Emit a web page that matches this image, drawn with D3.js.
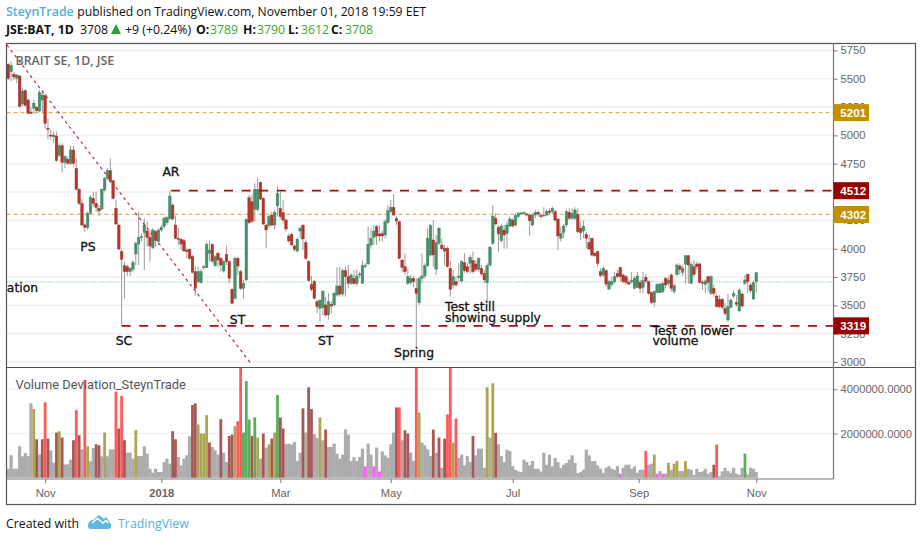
<!DOCTYPE html>
<html><head><meta charset="utf-8">
<style>html,body{margin:0;padding:0;background:#fff}svg{display:block}</style>
<script src="https://cdnjs.cloudflare.com/ajax/libs/d3/7.8.5/d3.min.js"></script>
</head><body><svg id="c" width="922" height="541"></svg>
<script>
const opens=[5627,5562,5539,5504,5524,5277,5395,5312,5206,5239,5248,5215,5312,5351,5062,5003,4998,4995,4824,4909,4762,4789,4753,4871,4709,4524,4400,4209,4188,4312,4444,4400,4356,4350,4518,4621,4689,4600,4356,4209,3974,3850,3841,3797,3818,3953,4041,4097,4144,4156,4100,4009,4150,4062,4165,4194,4230,4268,4385,4209,4091,4083,4071,3988,3994,3930,3797,3709,3700,3832,3835,3959,4038,3850,3959,3915,3803,3950,3885,3641,3562,3915,3797,3650,3724,4450,4415,4347,4347,4586,4444,4209,4203,4297,4209,4377,4356,4318,4253,4112,4127,4024,3980,4156,4206,4053,3885,3685,3709,3532,3474,3479,3503,3415,3509,3503,3591,3671,3600,3806,3753,3694,3738,3694,3771,3694,3841,3865,4032,4100,4194,4130,4135,4121,4230,4327,4365,4268,4238,3900,3841,3694,3700,3738,3650,3524,3738,3759,3850,3944,4077,3818,4047,4032,4003,4003,3827,3680,3709,3747,3715,3877,3841,3871,3894,3865,3818,3827,3782,3700,3856,4047,4268,4188,4071,4165,4135,4200,4253,4209,4283,4309,4312,4306,4297,4209,4297,4321,4291,4291,4297,4332,4327,4327,4262,4091,4144,4209,4321,4268,4268,4303,4180,4156,4127,4056,4091,3959,3974,3797,3768,3806,3644,3685,3709,3782,3835,3768,3753,3703,3706,3650,3659,3703,3659,3747,3709,3612,3524,3615,3612,3621,3738,3694,3768,3621,3774,3847,3791,3862,3938,3694,3841,3865,3865,3703,3685,3753,3606,3650,3582,3553,3553,3474,3371,3482,3582,3524,3450,3600,3694,3774,3680,3556,3708];
const highs=[5636,5651,5562,5542,5533,5415,5407,5327,5254,5312,5259,5401,5401,5371,5151,5048,5033,5033,4930,4930,4827,4812,4909,4909,4797,4533,4435,4224,4327,4474,4503,4503,4386,4533,4636,4709,4797,4606,4435,4218,3997,3885,3856,3841,3900,4062,4327,4135,4268,4238,4165,4180,4165,4180,4209,4283,4288,4512,4400,4292,4188,4100,4091,4003,4003,3944,3841,3841,3818,3856,4062,4071,4047,3944,3974,3924,3900,4027,3900,3650,3930,3930,3812,3724,4268,4474,4480,4577,4630,4592,4459,4218,4297,4327,4341,4553,4503,4430,4268,4135,4141,4038,4100,4194,4218,4077,3900,3759,3724,3547,3547,3635,3577,3606,3532,3621,3835,3841,3827,3841,3856,3782,3812,3818,3797,3894,3871,4194,4180,4209,4209,4209,4165,4259,4385,4430,4483,4288,4247,3906,3959,3827,3768,3759,3738,3753,3959,3871,4180,4218,4253,4121,4194,4091,4032,4018,3894,3812,3753,3871,3900,3959,3877,3944,3974,3900,3924,3856,3812,3871,4024,4385,4312,4209,4218,4209,4238,4283,4268,4312,4327,4327,4332,4318,4312,4312,4341,4335,4312,4365,4347,4356,4371,4341,4268,4194,4218,4347,4356,4356,4365,4356,4238,4247,4150,4121,4100,3974,3982,3827,3841,3818,3724,3753,3797,3812,3841,3782,3768,3730,3797,3759,3797,3724,3797,3777,3718,3621,3635,3694,3694,3709,3753,3753,3782,3694,3871,3871,3856,3938,3944,3885,3900,3885,3877,3724,3730,3759,3768,3680,3606,3591,3562,3518,3600,3562,3635,3591,3650,3612,3768,3782,3700,3718,3790];
const lows=[5489,5474,5489,5460,5248,5259,5254,5186,5186,5189,5195,5206,5209,5062,4965,4959,4930,4768,4812,4671,4709,4739,4739,4724,4515,4386,4200,4150,4165,4297,4371,4327,4288,4341,4503,4606,4577,4435,4209,3988,3320,3562,3759,3759,3797,3856,3856,4062,3812,4018,3885,3997,4018,4033,4150,4180,4209,4253,4253,4083,4033,3988,3974,3915,3900,3782,3585,3694,3694,3812,3827,3885,3871,3841,3835,3797,3788,3856,3694,3512,3553,3768,3635,3562,3718,4218,4230,4238,4327,4430,4209,4009,4180,4194,4171,4283,4259,4224,4150,4053,4018,3974,3965,4091,3988,3900,3709,3621,3553,3429,3356,3415,3400,3376,3429,3488,3577,3577,3577,3577,3650,3680,3680,3665,3738,3688,3827,3856,4003,4033,4033,4062,4062,4091,4218,4312,4288,4209,3906,3788,3768,3680,3680,3659,3120,3503,3694,3738,3841,3930,3841,3768,4033,3988,3856,3835,3577,3650,3665,3709,3700,3788,3782,3782,3782,3797,3797,3759,3694,3518,3841,4032,4209,3974,4053,4003,4003,4188,4188,4194,4268,4297,4297,4283,4112,4194,4268,4283,4268,4283,4288,4297,4306,4238,3988,4062,4091,4194,4253,4253,4253,4135,4077,4091,4003,3988,3930,3924,3841,3747,3747,3665,3635,3665,3694,3738,3709,3694,3680,3680,3694,3641,3650,3606,3606,3694,3591,3512,3488,3606,3606,3606,3650,3665,3621,3600,3753,3768,3759,3694,3694,3688,3753,3812,3694,3635,3606,3621,3591,3577,3482,3474,3465,3415,3356,3474,3562,3488,3444,3482,3680,3606,3606,3547,3612];
const closes=[5504,5615,5515,5533,5254,5392,5265,5195,5195,5283,5218,5380,5357,5106,5053,4995,4989,4777,4909,4762,4812,4753,4871,4753,4524,4400,4209,4188,4312,4453,4400,4362,4333,4524,4621,4689,4592,4444,4218,3997,3906,3797,3797,3827,3877,4047,4097,4106,4209,4100,4024,4165,4071,4165,4188,4268,4274,4465,4262,4091,4083,4041,3980,3974,3915,3791,3650,3797,3797,3841,4038,3988,3891,3930,3900,3856,3885,3885,3738,3518,3915,3847,3650,3694,4259,4230,4241,4524,4524,4438,4218,4165,4283,4209,4321,4488,4283,4253,4174,4068,4033,3994,4083,4180,4086,3915,3718,3641,3562,3488,3547,3621,3415,3532,3494,3606,3671,3600,3806,3753,3694,3768,3694,3759,3777,3850,3850,4038,4091,4156,4112,4112,4112,4238,4335,4365,4297,4244,3915,3835,3797,3753,3738,3709,3606,3738,3759,3850,4091,4206,3944,4053,4180,4000,3980,3841,3641,3753,3680,3759,3885,3806,3797,3924,3797,3818,3915,3777,3724,3850,4012,4288,4218,4130,4200,4121,4209,4262,4200,4291,4312,4315,4318,4300,4247,4297,4321,4306,4283,4297,4327,4318,4356,4253,4112,4135,4200,4327,4268,4312,4341,4150,4141,4200,4091,3997,3944,3938,3871,3762,3827,3688,3709,3709,3753,3753,3753,3709,3703,3688,3718,3738,3759,3650,3718,3715,3606,3524,3621,3685,3688,3694,3680,3724,3650,3674,3856,3818,3827,3938,3856,3862,3774,3841,3703,3694,3715,3703,3753,3606,3488,3488,3482,3429,3488,3547,3606,3509,3635,3494,3724,3709,3630,3700,3789];
const volumes=[409,1015,409,409,1424,970,1121,985,3364,3106,1742,1061,1742,3409,1773,1242,682,2045,2106,1818,606,606,818,1697,3060,1924,1288,4424,1424,742,1348,1515,1470,970,2045,970,1288,1288,3894,2227,3697,1697,1136,1136,864,2151,985,985,1424,1091,409,227,409,258,258,712,864,636,2106,1742,939,561,864,1015,1879,3288,3364,2409,2000,2000,2833,1591,1394,1242,1045,2651,1136,712,1894,1954,2333,2560,5300,2045,4379,2636,1894,2727,1818,864,2000,1364,1515,1773,2045,3742,2727,2227,1515,1545,1500,1621,758,1136,3136,2045,4091,3106,1970,1803,2727,1697,2182,1394,1394,1545,1091,864,1045,2182,1954,758,939,758,939,1318,515,1545,1045,515,1364,288,1197,1015,909,1515,2045,3182,3182,1697,2151,2000,1136,758,5300,2954,1591,1470,1288,985,2182,1136,1818,455,1773,2864,5300,1591,2682,894,1045,561,985,712,1894,1015,1318,1318,455,4091,1818,4273,2030,1515,985,712,1273,1212,530,364,288,258,818,712,561,758,409,409,288,1136,591,1045,515,894,712,439,591,667,818,1015,667,212,258,364,1273,1015,758,758,561,409,227,455,530,409,364,530,182,455,591,591,409,515,227,364,364,1212,591,636,1045,182,303,182,182,682,364,636,758,303,303,758,409,364,136,409,258,288,409,182,258,591,1500,76,288,455,303,227,455,182,136,455,1091,152,455,409,258];
const volumeKinds=("gggggggggo"+"dgdrdggdod"+"gggdrdgrog"+"gddgogggrd"+"rdgggogggg"+"ggggggggdd"+"gggggddooo"+"odgggdggdd"+"orrnnndnog"+"dgodonddgg"+"ggggdgddgg"+"ogdggggggg"+"ggggggmggm"+"gmgggggdrg"+"ddggrogggg"+"dgdgdrrorg"+"ggggdggggo"+"godggggggg"+"gggggggggg"+"gggggggggg"+"gggggggggg"+"ggggggmggg"+"gggggrggom"+"gmgogooggo"+"gggggggggd"+"rggggggggg"+"ngggg").split("");
const priceTicks=[5750,5500,5250,5000,4750,4500,4250,4000,3750,3500,3250,3000];
const volumeTicks=[4000,2000];
const timeTicks=[13,54,96,135,178,222.5,264];
const timeLabels=["Nov","2018","Mar","May","Jul","Sep","Nov"];
const goldLevels=[5201,4302];
const redLevels=[{price:4512,from:57.5},{price:3319,from:40}];
const lastPrice=3708;
const trendIdx=[-0.5,86];
const trendPrice=[5798,2974];
const notes=[["AR",57.4,4642],["PS",28.1,3980],["SC",40.8,3154],["ST",80.9,3331],["ST",112,3154],["Spring",143.2,3040]];
const kindColor={g:"#acacac",d:"#a85656",r:"#ff5a5a",o:"#aca552",n:"#5aae5a",m:"#ff5cff"};

const L=6.5,R=833.5,FR=915.5,T=43.5,SP=367.5,VB=478.5,B=504.5;
const n=opens.length;
const x=d3.scaleLinear().domain([0,n-1]).range([8.3,756.3]);
const y=d3.scaleLinear().domain([3000,5750]).range([362,50.4]);
const v=d3.scaleLinear().domain([0,4000]).range([477.8,389.3]);
const svg=d3.select("#c");
const AR="'Liberation Sans',Arial,sans-serif",OS="'Open Sans',sans-serif",DJ="'DejaVu Sans',sans-serif";
const defs=svg.append("defs");
defs.append("clipPath").attr("id","pp").append("rect").attr("x",L).attr("y",T).attr("width",R-L).attr("height",SP-T);
defs.append("clipPath").attr("id","vp").append("rect").attr("x",L).attr("y",SP).attr("width",R-L).attr("height",VB-SP);

// grid
const grid=svg.append("g").attr("stroke","#f1f1f1").attr("stroke-width",1.6);
grid.selectAll(".p").data(priceTicks).join("line").attr("x1",L).attr("x2",R).attr("y1",d=>y(d)).attr("y2",d=>y(d));
grid.selectAll(".v").data(volumeTicks).join("line").attr("x1",L).attr("x2",R).attr("y1",d=>v(d)).attr("y2",d=>v(d));

// axes
const pa=svg.append("g").attr("transform",`translate(${R},0)`).call(d3.axisRight(y).tickValues(priceTicks).tickSize(4).tickPadding(3).tickFormat(d3.format("d")));
const va=svg.append("g").attr("transform",`translate(${R},0)`).call(d3.axisRight(v).tickValues(volumeTicks).tickSize(4).tickPadding(3).tickFormat(d=>d3.format(".4f")(d*1000)));
const ta=svg.append("g").attr("transform",`translate(0,${VB+.5})`).call(d3.axisBottom(x).tickValues(timeTicks).tickSize(4).tickPadding(6).tickFormat((d,i)=>timeLabels[i]));
[pa,va,ta].forEach(a=>{a.select(".domain").remove();a.selectAll("line").attr("stroke","#777");
 a.selectAll("text").attr("fill","#666").style("font-family",AR).style("font-size","11.2px");});
ta.selectAll("text").filter((d,i)=>timeLabels[i]==="2018").style("font-weight","bold");

// candles
const pg=svg.append("g").attr("clip-path","url(#pp)");
pg.selectAll(".last").data([lastPrice]).join("line").attr("x1",L).attr("x2",R).attr("y1",d=>y(d)).attr("y2",d=>y(d))
 .attr("stroke","#a9d3bb").attr("stroke-width",1.2).attr("stroke-dasharray","1.2 1.4");
pg.selectAll(".gold").data(goldLevels).join("line").attr("x1",L).attr("x2",R).attr("y1",d=>y(d)).attr("y2",d=>y(d))
 .attr("stroke","#e2b54a").attr("stroke-width",1.3).attr("stroke-dasharray","4 3");
const idx=d3.range(n);
pg.selectAll(".w").data(idx).join("line").attr("x1",i=>x(i)).attr("x2",i=>x(i)).attr("y1",i=>y(highs[i])).attr("y2",i=>y(lows[i]))
 .attr("stroke","#9a9a9a").attr("stroke-width",1);
pg.selectAll(".b").data(idx).join("rect").attr("x",i=>x(i)-1.3).attr("width",2.6)
 .attr("y",i=>y(Math.max(opens[i],closes[i]))).attr("height",i=>Math.max(1,Math.abs(y(opens[i])-y(closes[i]))))
 .attr("fill",i=>closes[i]>=opens[i]?"#44916a":"#b5352b")
 .attr("stroke",i=>closes[i]>=opens[i]?"#3c7f5c":"#9c2f27").attr("stroke-width",.4);
pg.selectAll(".red").data(redLevels).join("line").attr("x1",d=>x(d.from)).attr("x2",R).attr("y1",d=>y(d.price)).attr("y2",d=>y(d.price))
 .attr("stroke","#a81010").attr("stroke-width",1.7).attr("stroke-dasharray","9 8.6");
pg.append("line").attr("x1",x(trendIdx[0])).attr("y1",y(trendPrice[0])).attr("x2",x(trendIdx[1])).attr("y2",y(trendPrice[1]))
 .attr("stroke","#b5324a").attr("stroke-width",1.2).attr("stroke-dasharray","3 3.4");

// volumes: grey first so they form a solid mass, coloured bars on top
const vg=svg.append("g").attr("clip-path","url(#vp)");
const greys=idx.filter(i=>volumeKinds[i]==="g"), coloured=idx.filter(i=>volumeKinds[i]!=="g");
vg.selectAll(".vg").data(greys).join("rect").attr("x",i=>x(i)-1.6).attr("width",3.2)
 .attr("y",i=>v(volumes[i])).attr("height",i=>v(0)-v(volumes[i])).attr("fill",kindColor.g);
vg.selectAll(".vc").data(coloured).join("rect").attr("x",i=>x(i)-1.4).attr("width",2.8)
 .attr("y",i=>v(volumes[i])).attr("height",i=>v(0)-v(volumes[i])).attr("fill",i=>kindColor[volumeKinds[i]]);

// frames
svg.append("rect").attr("x",L).attr("y",T).attr("width",FR-L).attr("height",B-T).attr("fill","none").attr("stroke","#555").attr("stroke-width",1.2);
svg.append("line").attr("x1",L).attr("x2",FR).attr("y1",SP).attr("y2",SP).attr("stroke","#555").attr("stroke-width",1.2);
svg.append("line").attr("x1",R).attr("x2",R).attr("y1",T).attr("y2",VB+.5).attr("stroke","#777").attr("stroke-width",1.2);
svg.append("line").attr("x1",L).attr("x2",R).attr("y1",VB+.5).attr("y2",VB+.5).attr("stroke","#777").attr("stroke-width",1.2);

// price tags
const tags=[[goldLevels[0],"#c49000"],[goldLevels[1],"#c49000"],[redLevels[0].price,"#990000"],[redLevels[1].price,"#990000"]];
const tg=svg.selectAll(".tag").data(tags).join("g").attr("transform",d=>`translate(${R},${y(d[0])})`);
tg.append("rect").attr("x",0).attr("y",-8.5).attr("width",35.5).attr("height",17).attr("fill",d=>d[1]);
tg.append("text").attr("x",6.8).attr("y",4.2).attr("fill","#fff").style("font-family",AR).style("font-size","11.6px").style("font-weight","bold").text(d=>d[0]);

// annotations
function label(t,xx,yy,o={}){return svg.append("text").attr("x",xx).attr("y",yy).text(t).attr("fill",o.fill||"#111")
 .style("font-family",o.ff||DJ).style("font-size",(o.fs||12)+"px").style("font-weight",o.fw||"normal")
 .attr("stroke",o.st||"none").attr("stroke-width",o.sw||0);}
notes.forEach(d=>label(d[0],x(d[1]),y(d[2]),{fs:12.4,st:"#111",sw:.3}).attr("text-anchor","middle"));
[["Test still",445,311],["showing supply",445,321.5],["Test on lower",652.5,334.5],["volume",652.5,345]].forEach(d=>label(d[0],d[1],d[2],{fs:12.4,st:"#111",sw:.3}));
label("ation",6.8,292,{fs:12.4,st:"#111",sw:.3});
label("BRAIT SE, 1D, JSE",15.5,65,{ff:OS,fs:12.4,fw:600,fill:"#666"});
label("Volume Deviation_SteynTrade",15.5,389,{ff:"Roboto,sans-serif",fs:12.9,fill:"#555"});

// header
label("SteynTrade",6,16,{ff:OS,fs:12.4,fill:"#4fb0e4",fw:600});
label("published on TradingView.com, November 01, 2018 19:59 EET",77.3,16,{ff:OS,fs:12.15});
label("JSE:BAT, 1D",6,34,{ff:OS,fs:12.3,fw:700});
label("3708",80,34,{ff:OS,fs:12.3});
svg.append("path").attr("d","M111,34L121,34L116,24Z").attr("fill","#22a32a");
label("+9 (+0.24%)",125,34,{ff:OS,fs:12.3});
[["O:",196,"3789",210],["H:",243,"3790",257],["L:",288,"3612",301],["C:",331,"3708",345]].forEach(d=>{
 label(d[0],d[1],34,{ff:OS,fs:12.3,fw:700});label(d[2],d[3],34,{ff:OS,fs:12.3,fill:"#3da62f"});});

// footer
label("Created with",6,528,{ff:OS,fs:12.3});
label("TradingView",118,528,{ff:OS,fs:12.4,fill:"#4fb0e4"});
const logo=svg.append("g").attr("fill","#5db8e6");
logo.append("path").attr("d","M88,526 C88,522 91,520 93,520 L99,515 L104,519 L106,517 L111,524 C112,527 110,529 108,529 L91,529 C89,529 88,528 88,526Z");
logo.append("path").attr("d","M92,523 L97.5,518.5 L103,523 L106,520.5 L108.5,523").attr("fill","none").attr("stroke","#fff").attr("stroke-width",1.6);
</script></body></html>
